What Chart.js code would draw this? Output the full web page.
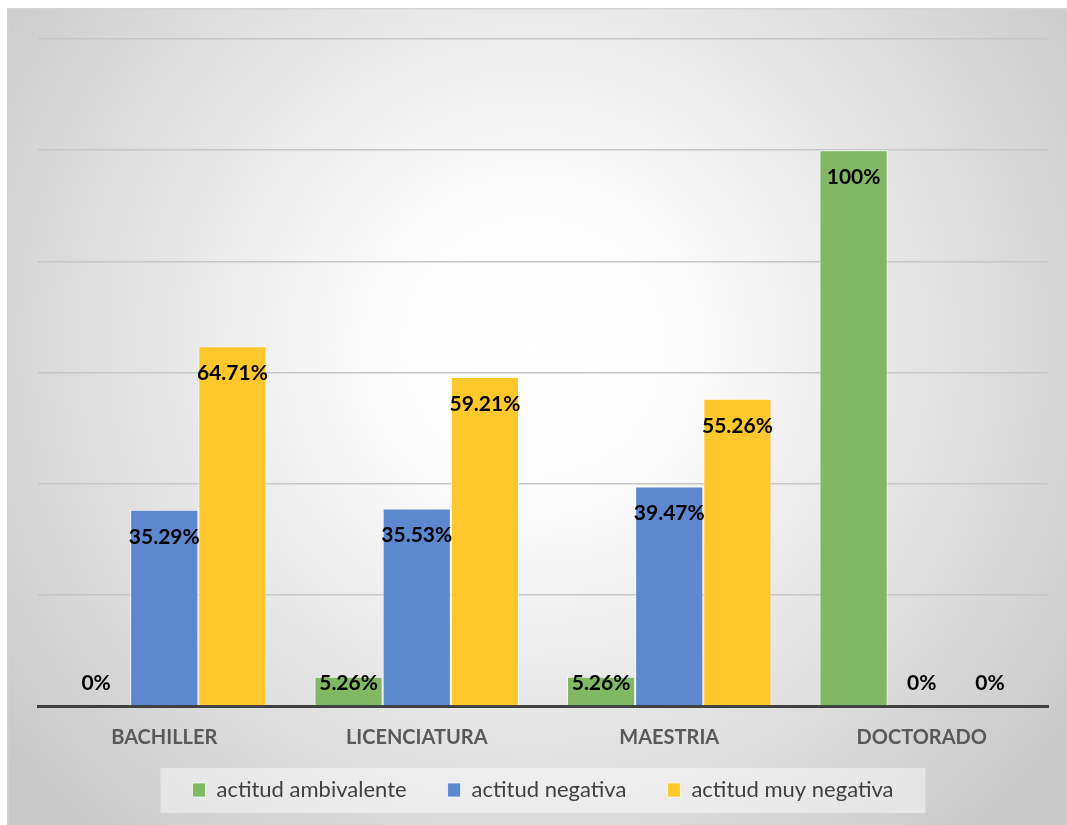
<!DOCTYPE html>
<html>
<head>
<meta charset="utf-8">
<script src="https://cdn.jsdelivr.net/npm/chart.js@4.4.1/dist/chart.umd.min.js"></script>
<style>
  html, body { margin: 0; padding: 0; background: #ffffff; }
  #wrap { width: 1067px; height: 825px; position: relative; }
</style>
</head>
<body>
<div id="wrap"><canvas id="grafico"></canvas></div>
<script>
// Niveles de estudio y porcentajes por actitud
const niveles = ['BACHILLER', 'LICENCIATURA', 'MAESTRIA', 'DOCTORADO'];
const ambivalente = [0, 5.26, 5.26, 100];
const negativa = [35.29, 35.53, 39.47, 0];
const muyNegativa = [64.71, 59.21, 55.26, 0];

const FONT = 'Lato, Calibri, "Liberation Sans", sans-serif';

// Fondo con degradado radial y marco gris
const fondo = {
    id: 'fondo',
    beforeDraw(chart) {
        const c = chart.ctx;
        const w = chart.width, h = chart.height;
        c.save();
        const g = c.createRadialGradient(w * 0.5, h * 0.42, 0, w * 0.5, h * 0.42, w * 0.62);
        g.addColorStop(0, '#ffffff');
        g.addColorStop(0.25, '#fbfbfb');
        g.addColorStop(1, '#c9c9c9');
        c.fillStyle = g;
        c.fillRect(7, 9, w - 7, h - 9);
        c.fillStyle = '#d4d4d4';
        c.fillRect(7, 8, w - 7, 1.5);
        c.fillRect(7, 8, 1.5, h - 8);

        // recuadro claro detrás de la leyenda
        const boxes = chart.legend.legendHitBoxes;
        if (boxes && boxes.length) {
            const l = Math.min(...boxes.map(b => b.left)) - 32;
            const r = Math.max(...boxes.map(b => b.left + b.width)) + 32;
            const mid = boxes[0].top + boxes[0].height / 2;
            c.fillStyle = 'rgba(255,255,255,0.45)';
            c.fillRect(l, mid - 22, r - l, 45);
        }
        c.restore();
    }
};

// Nombres de las categorías bajo el eje (se dibujan aparte para que no los recorte la escala)
const categorias = {
    id: 'categorias',
    afterDraw(chart) {
        const c = chart.ctx;
        const x = chart.scales.x;
        c.save();
        c.font = 'bold 20px ' + FONT;
        c.fillStyle = '#595959';
        c.textAlign = 'center';
        c.textBaseline = 'middle';
        chart.data.labels.forEach((lab, i) => {
            c.fillText(lab, x.getPixelForValue(i), x.top + 32);
        });
        c.restore();
    }
};

// Etiquetas de valor en el extremo interior de cada barra
const etiquetas = {
    id: 'etiquetas',
    afterDatasetsDraw(chart) {
        const c = chart.ctx;
        const base = chart.scales.y.getPixelForValue(0);
        c.save();
        c.font = 'bold 21px ' + FONT;
        c.fillStyle = '#000000';
        c.textAlign = 'center';
        c.textBaseline = 'middle';
        chart.data.datasets.forEach((ds, i) => {
            chart.getDatasetMeta(i).data.forEach((bar, j) => {
                const v = ds.data[j];
                const txt = (v === 0 || v === 100) ? v + '%' : v.toFixed(2) + '%';
                const y = Math.min(bar.y + 27, base - 23);
                c.fillText(txt, bar.x, y);
            });
        });
        c.restore();
    }
};

const ctx = document.getElementById('grafico');

var chart = new Chart(ctx, {
    type: 'bar',
    data: {
        labels: niveles,
        datasets: [{
            label: 'actitud ambivalente',
            data: ambivalente,
            backgroundColor: '#81b863',
            borderColor: 'rgba(255,255,255,0.7)',
            borderWidth: 1
        }, {
            label: 'actitud negativa',
            data: negativa,
            backgroundColor: '#5d87cf',
            borderColor: 'rgba(255,255,255,0.7)',
            borderWidth: 1
        }, {
            label: 'actitud muy negativa',
            data: muyNegativa,
            backgroundColor: '#fec72b',
            borderColor: 'rgba(255,255,255,0.7)',
            borderWidth: 1
        }]
    },
    options: {
        responsive: true,
        maintainAspectRatio: false,
        animation: false,
        categoryPercentage: 0.81,
        barPercentage: 1,
        layout: {
            padding: { left: 38, right: 19, top: 39, bottom: 14 }
        },
        scales: {
            y: {
                min: 0,
                max: 120,
                ticks: { display: false, stepSize: 20 },
                grid: { color: '#c6c6c6', lineWidth: 1.5, drawTicks: false },
                border: { display: false }
            },
            x: {
                grid: { display: false },
                border: { color: '#404040', width: 3 },
                ticks: { display: false },
                afterFit(scale) {
                    scale.height = 32;
                }
            }
        },
        plugins: {
            legend: {
                position: 'bottom',
                labels: {
                    color: '#404040',
                    boxWidth: 13,
                    boxHeight: 14,
                    padding: 41,
                    font: { family: FONT, size: 22 }
                }
            },
            tooltip: { enabled: false }
        }
    },
    plugins: [fondo, etiquetas, categorias]
});
</script>
</body>
</html>
